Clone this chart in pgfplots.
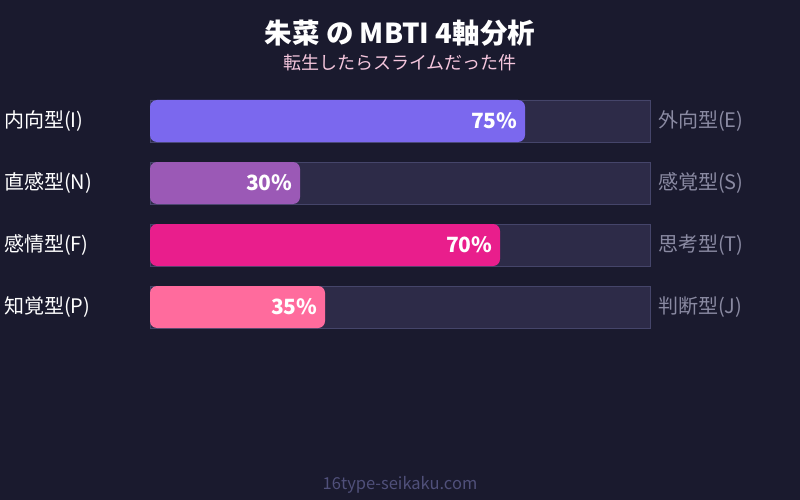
\documentclass[border=0pt]{standalone}
\usepackage{fontspec}
\setmainfont{Noto Sans CJK JP}
\usepackage{pgfplots}
\pgfplotsset{compat=1.18}
\definecolor{bg}{HTML}{1A1A2E}
\definecolor{track}{HTML}{2D2B48}
\definecolor{trackline}{HTML}{45456A}
\definecolor{cI}{HTML}{7B68EE}
\definecolor{cN}{HTML}{9B59B6}
\definecolor{cF}{HTML}{E91E8C}
\definecolor{cP}{HTML}{FF6B9D}
\definecolor{subpink}{HTML}{F5C6DD}
\definecolor{rightgrey}{HTML}{8A8AA2}
\definecolor{footgrey}{HTML}{50507A}
\begin{document}
\begin{tikzpicture}[x=1pt,y=1pt,
    leftlab/.style={anchor=west, text=white, font=\fontsize{20}{20}\selectfont, inner sep=0pt},
    rightlab/.style={anchor=west, text=rightgrey, font=\fontsize{20}{20}\selectfont, inner sep=0pt}]
\fill[bg] (0,0) rectangle (800,500);
\begin{axis}[
    at={(0,0)}, anchor=south west,
    scale only axis, width=800pt, height=500pt,
    xmin=-30, xmax=130, ymin=0, ymax=500, y dir=reverse,
    axis lines=none, clip=false,
    xbar, bar width=42, bar shift=0pt,
    /pgf/number format/assume math mode=true,
    nodes near coords style={font=\fontsize{21}{21}\selectfont\bfseries, text=white, anchor=east, xshift=-4pt},
]
% background tracks
\addplot[fill=track, draw=trackline, line width=0.8pt] coordinates {(100,121)(100,183)(100,245)(100,307)};
% values
\addplot[fill=cI, draw=none, rounded corners=7pt, nodes near coords={\pgfmathprintnumber\pgfplotspointmeta\%}, point meta=x] coordinates {(75,121)};
\addplot[fill=cN, draw=none, rounded corners=7pt, nodes near coords={\pgfmathprintnumber\pgfplotspointmeta\%}, point meta=x] coordinates {(30,183)};
\addplot[fill=cF, draw=none, rounded corners=7pt, nodes near coords={\pgfmathprintnumber\pgfplotspointmeta\%}, point meta=x] coordinates {(70,245)};
\addplot[fill=cP, draw=none, rounded corners=7pt, nodes near coords={\pgfmathprintnumber\pgfplotspointmeta\%}, point meta=x] coordinates {(35,307)};

\node[anchor=center, text=white, font=\fontsize{27.5}{27.5}\selectfont\bfseries] at (axis cs:50,33) {朱菜 の MBTI 4軸分析};
\node[anchor=center, text=subpink, font=\fontsize{18}{18}\selectfont] at (axis cs:50,63) {転生したらスライムだった件};

\node[leftlab] at (axis cs:-29.2,121) {内向型(I)};
\node[leftlab] at (axis cs:-29.2,183) {直感型(N)};
\node[leftlab] at (axis cs:-29.2,245) {感情型(F)};
\node[leftlab] at (axis cs:-29.2,307) {知覚型(P)};
\node[rightlab] at (axis cs:101.6,121) {外向型(E)};
\node[rightlab] at (axis cs:101.6,183) {感覚型(S)};
\node[rightlab] at (axis cs:101.6,245) {思考型(T)};
\node[rightlab] at (axis cs:101.6,307) {判断型(J)};

\node[anchor=center, text=footgrey, font=\fontsize{16.5}{16.5}\selectfont] at (axis cs:50,485) {16type-seikaku.com};
\end{axis}
\end{tikzpicture}
\end{document}
